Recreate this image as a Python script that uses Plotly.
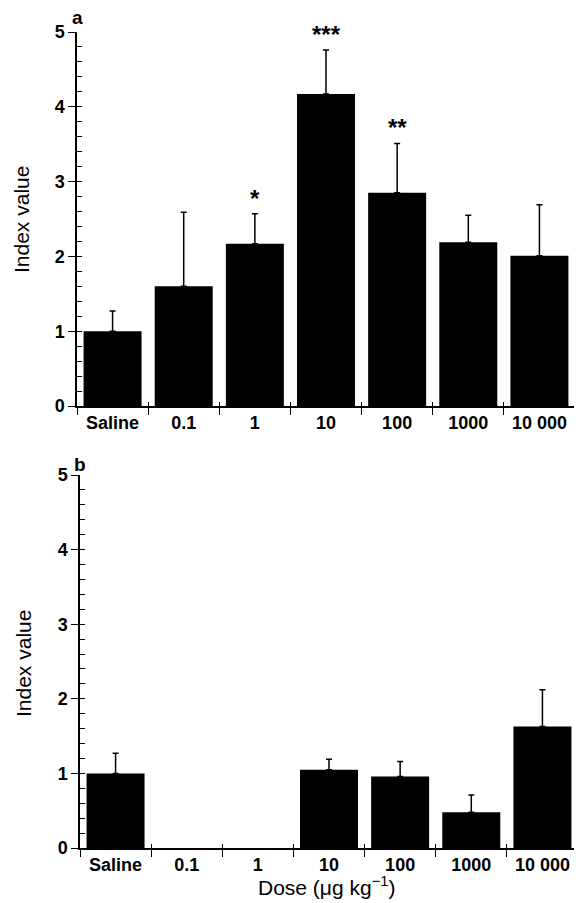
import plotly.graph_objects as go

categories = ["Saline", "0.1", "1", "10", "100", "1000", "10 000"]
a_values = [1.0, 1.6, 2.17, 4.17, 2.85, 2.19, 2.01]
a_err_top = [1.27, 2.59, 2.57, 4.76, 3.51, 2.55, 2.69]
a_stars = ["", "", "*", "***", "**", "", ""]
b_values = [1.0, None, None, 1.05, 0.96, 0.48, 1.63]
b_err_top = [1.27, None, None, 1.19, 1.16, 0.71, 2.12]

# page body adds an 8px offset; size the figure to fill the rest of the window
OFF = 8
W, H = 582 - OFF, 903 - OFF
def fy(px):
    return 1 - (px - OFF) / H
def fx(px):
    return (px - OFF) / W

font_family = "Liberation Sans, Arial, sans-serif"

fig = go.Figure()

def err_plus(vals, tops):
    return [(t - v) if (t is not None and v is not None) else None for v, t in zip(vals, tops)]

def err_minus(tops):
    return [0 if t is not None else None for t in tops]

fig.add_trace(go.Bar(
    x=categories, y=a_values, xaxis="x", yaxis="y",
    marker=dict(color="black", line=dict(width=0)),
    error_y=dict(type="data", symmetric=False, array=err_plus(a_values, a_err_top),
                 arrayminus=err_minus(a_err_top), color="black", thickness=1.5, width=3),
    showlegend=False, hoverinfo="skip",
))
fig.add_trace(go.Bar(
    x=categories, y=b_values, xaxis="x2", yaxis="y2",
    marker=dict(color="black", line=dict(width=0)),
    error_y=dict(type="data", symmetric=False, array=err_plus(b_values, b_err_top),
                 arrayminus=err_minus(b_err_top), color="black", thickness=1.5, width=3),
    showlegend=False, hoverinfo="skip",
))
# invisible traces so overlay axes (inside ticks) get drawn
for xa, ya in (("x3", "y3"), ("x4", "y4")):
    fig.add_trace(go.Scatter(x=[0], y=[0], xaxis=xa, yaxis=ya, mode="markers",
                             marker=dict(opacity=0), showlegend=False, hoverinfo="skip"))

annotations = []
for i, (s, t) in enumerate(zip(a_stars, a_err_top)):
    if s:
        annotations.append(dict(x=i, y=t, xref="x", yref="y", text=s, showarrow=False,
                                yanchor="bottom", yshift=0,
                                font=dict(family=font_family, size=24, color="black", weight="bold")))

annotations += [
    dict(x=fx(77), y=fy(18), xref="paper", yref="paper", text="<b>a</b>", showarrow=False,
         xanchor="center", yanchor="middle", font=dict(family=font_family, size=19, color="black")),
    dict(x=fx(80), y=fy(464), xref="paper", yref="paper", text="<b>b</b>", showarrow=False,
         xanchor="center", yanchor="middle", font=dict(family=font_family, size=19, color="black")),
    dict(x=fx(22), y=fy(220), xref="paper", yref="paper", text="Index value", textangle=-90,
         showarrow=False, xanchor="center", yanchor="middle",
         font=dict(family=font_family, size=21, color="black")),
    dict(x=fx(23), y=fy(664), xref="paper", yref="paper", text="Index value", textangle=-90,
         showarrow=False, xanchor="center", yanchor="middle",
         font=dict(family=font_family, size=21, color="black")),
    dict(x=fx(326), y=fy(886), xref="paper", yref="paper", text="Dose (μg kg<sup>−1</sup>)",
         showarrow=False, xanchor="center", yanchor="middle",
         font=dict(family=font_family, size=21, color="black")),
]

tickfont = dict(family=font_family, size=18, color="black", weight="bold")
ytickfont = dict(family=font_family, size=18, color="black", weight="bold")

xcommon = dict(type="category", range=[-0.5, 6.5], showline=True, linecolor="black", linewidth=1.5,
               ticks="outside", tickson="boundaries", ticklen=7, tickwidth=1.3, tickcolor="black",
               tickfont=tickfont, showgrid=False, zeroline=False, automargin=False, fixedrange=True)
ycommon = dict(range=[0, 5], dtick=1, showline=True, linecolor="black", linewidth=1.5,
               ticks="outside", ticklen=7, tickwidth=1.3, tickcolor="black",
               tickfont=ytickfont, showgrid=False, zeroline=False, automargin=False, fixedrange=True)
# overlay axes for inside ticks (minor ticks and crossing ticks)
xin = dict(type="linear", range=[-0.5, 6.5], tick0=-0.5, dtick=1, ticks="inside", ticklen=4,
           tickwidth=1.3, tickcolor="black", showticklabels=False, showline=False,
           showgrid=False, zeroline=False, automargin=False, fixedrange=True)
yin = dict(type="linear", range=[0, 5], tick0=0, dtick=0.2, ticks="inside", ticklen=5,
           tickwidth=1.2, tickcolor="black", showticklabels=False, showline=False,
           showgrid=False, zeroline=False, automargin=False, fixedrange=True)

fig.update_layout(
    width=W, height=H,
    margin=dict(l=0, r=0, t=0, b=0),
    paper_bgcolor="white", plot_bgcolor="white",
    bargap=0.185,
    xaxis=dict(domain=[fx(77), fx(575)], anchor="y", **xcommon),
    yaxis=dict(domain=[fy(406), fy(32)], anchor="x", **ycommon),
    xaxis2=dict(domain=[fx(80), fx(578)], anchor="y2", **xcommon),
    yaxis2=dict(domain=[fy(848), fy(475)], anchor="x2", **ycommon),
    xaxis3=dict(domain=[fx(77), fx(575)], anchor="y3", overlaying="x", side="bottom", **xin),
    yaxis3=dict(domain=[fy(406), fy(32)], anchor="x3", overlaying="y", side="left", **yin),
    xaxis4=dict(domain=[fx(80), fx(578)], anchor="y4", overlaying="x2", side="bottom", **xin),
    yaxis4=dict(domain=[fy(848), fy(475)], anchor="x4", overlaying="y2", side="left", **yin),
    annotations=annotations,
)

fig.write_html("out.html")
